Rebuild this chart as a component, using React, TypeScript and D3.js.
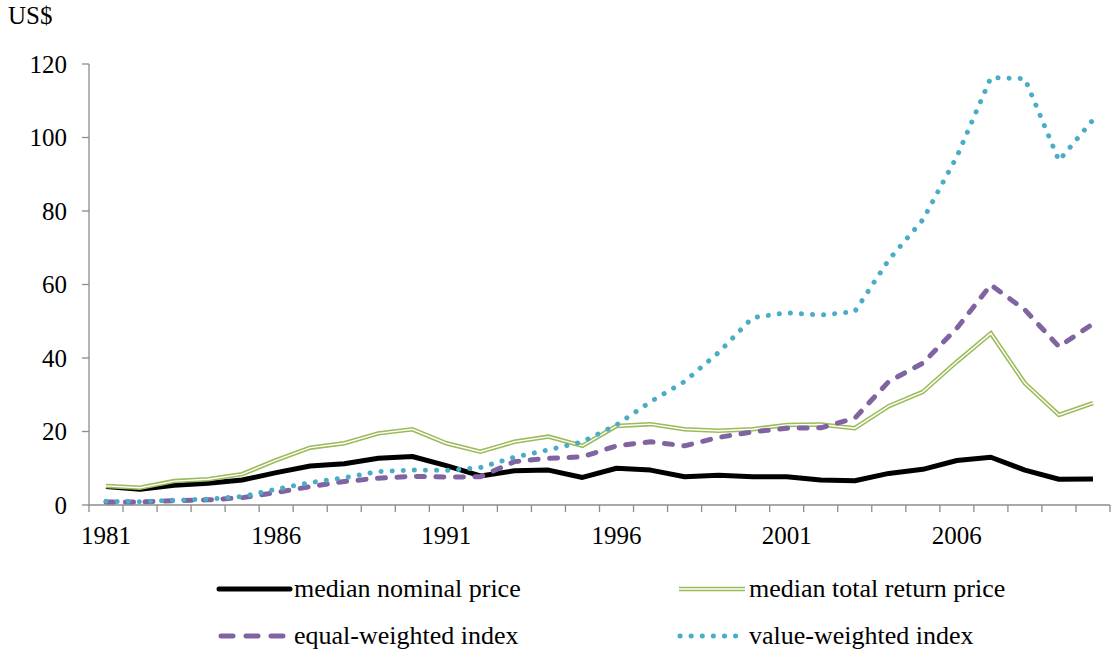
import { useMemo } from "react";
import * as d3 from "d3";

const years = d3.range(1981, 2011).map(String);
const tickYears = ["1981", "1986", "1991", "1996", "2001", "2006"];
const yTicks = [0, 20, 40, 60, 80, 100, 120];

const medianNominal = [
  5.0, 4.3, 5.4, 5.9, 6.8, 8.8, 10.6, 11.2, 12.7, 13.2, 10.7, 7.9, 9.3, 9.5, 7.5,
  10.0, 9.5, 7.7, 8.1, 7.7, 7.7, 6.8, 6.6, 8.6, 9.7, 12.1, 13.0, 9.5, 7.0, 7.1,
];
const medianTotalReturn = [
  5.2, 4.7, 6.5, 7.0, 8.4, 12.2, 15.6, 16.8, 19.5, 20.6, 16.8, 14.5, 17.2, 18.6, 16.1,
  21.5, 22.0, 20.6, 20.2, 20.6, 21.8, 21.9, 20.9, 26.9, 30.8, 39.0, 46.7, 33.1, 24.5, 27.7,
];
const equalWeighted = [
  0.8, 0.8, 1.2, 1.4, 2.0, 3.4, 5.0, 6.4, 7.3, 7.8, 7.6, 7.7, 11.8, 12.7, 13.1,
  16.1, 17.2, 16.1, 18.4, 19.9, 20.9, 21.0, 23.6, 33.6, 38.6, 48.1, 59.9, 53.1, 43.1, 49.3,
];
const valueWeighted = [
  1.0, 0.9, 1.3, 1.6, 2.3, 4.3, 6.1, 7.4, 9.1, 9.5, 9.4, 10.2, 13.0, 15.0, 17.2,
  21.8, 28.1, 33.6, 41.5, 51.0, 52.3, 51.7, 52.6, 66.7, 77.6, 94.8, 116.3, 116.0, 93.7, 104.8,
];

const FONT = "'Liberation Serif', 'Times New Roman', serif";
const AXIS = "#8c8c8c";

export default function App() {
  const x = useMemo(() => d3.scaleBand<string>().domain(years).range([89, 1110]).padding(0), []);
  const y = useMemo(() => d3.scaleLinear().domain([0, 120]).range([505, 64]), []);
  const cx = (yr: string) => (x(yr) ?? 0) + x.bandwidth() / 2;

  const line = d3
    .line<number>()
    .x((_, i) => cx(years[i]))
    .y((d) => y(d));

  const boundaries = years.map((yr) => x(yr) ?? 0).concat([x.range()[1]]);

  return (
    <svg width={1115} height={655} style={{ display: "block", position: "absolute", left: 0, top: 0 }}>
      <rect width={1115} height={655} fill="#fff" />
      <text x={8} y={24} fontFamily={FONT} fontSize={25} fill="#000">US$</text>

      {/* y axis */}
      <line x1={89} x2={89} y1={y(120)} y2={y(0)} stroke={AXIS} strokeWidth={1.3} />
      {yTicks.map((t) => (
        <g key={t}>
          <line x1={82} x2={89} y1={y(t)} y2={y(t)} stroke={AXIS} strokeWidth={1.3} />
          <text x={67} y={y(t)} dy="0.34em" textAnchor="end" fontFamily={FONT} fontSize={25}>
            {t}
          </text>
        </g>
      ))}

      {/* x axis */}
      <line x1={89} x2={1110} y1={y(0)} y2={y(0)} stroke={AXIS} strokeWidth={1.3} />
      {boundaries.map((b, i) => (
        <line key={i} x1={b} x2={b} y1={y(0)} y2={y(0) + 7} stroke={AXIS} strokeWidth={1.3} />
      ))}
      {tickYears.map((yr) => (
        <text key={yr} x={cx(yr)} y={544} textAnchor="middle" fontFamily={FONT} fontSize={25}>
          {yr}
        </text>
      ))}

      {/* series */}
      <path d={line(medianNominal) ?? ""} fill="none" stroke="#000" strokeWidth={5} strokeLinejoin="round" />
      <path d={line(medianTotalReturn) ?? ""} fill="none" stroke="#9bbb59" strokeWidth={4.5} strokeLinejoin="miter" />
      <path d={line(medianTotalReturn) ?? ""} fill="none" stroke="#fff" strokeWidth={1.4} strokeLinejoin="miter" />
      <path
        d={line(equalWeighted) ?? ""}
        fill="none"
        stroke="#8064a2"
        strokeWidth={5}
        strokeDasharray="8 11.5"
        strokeLinecap="round"
        strokeLinejoin="round"
      />
      <path
        d={line(valueWeighted) ?? ""}
        fill="none"
        stroke="#4bacc6"
        strokeWidth={5}
        strokeDasharray="0.1 11"
        strokeLinecap="round"
        strokeLinejoin="round"
      />

      {/* legend */}
      <line x1={219} x2={290} y1={589} y2={589} stroke="#000" strokeWidth={5} strokeLinecap="round" />
      <text x={294} y={597} fontFamily={FONT} fontSize={26}>median nominal price</text>

      <line x1={679} x2={745} y1={589} y2={589} stroke="#9bbb59" strokeWidth={4.5} />
      <line x1={679} x2={745} y1={589} y2={589} stroke="#fff" strokeWidth={1.4} />
      <text x={749} y={597} fontFamily={FONT} fontSize={26}>median total return price</text>

      <line x1={221} x2={290} y1={636} y2={636} stroke="#8064a2" strokeWidth={5} strokeDasharray="12 13" strokeLinecap="round" />
      <text x={294} y={644} fontFamily={FONT} fontSize={26}>equal-weighted index</text>

      <line x1={680} x2={745} y1={636} y2={636} stroke="#4bacc6" strokeWidth={5} strokeDasharray="0.1 11" strokeLinecap="round" />
      <text x={749} y={644} fontFamily={FONT} fontSize={26}>value-weighted index</text>
    </svg>
  );
}
